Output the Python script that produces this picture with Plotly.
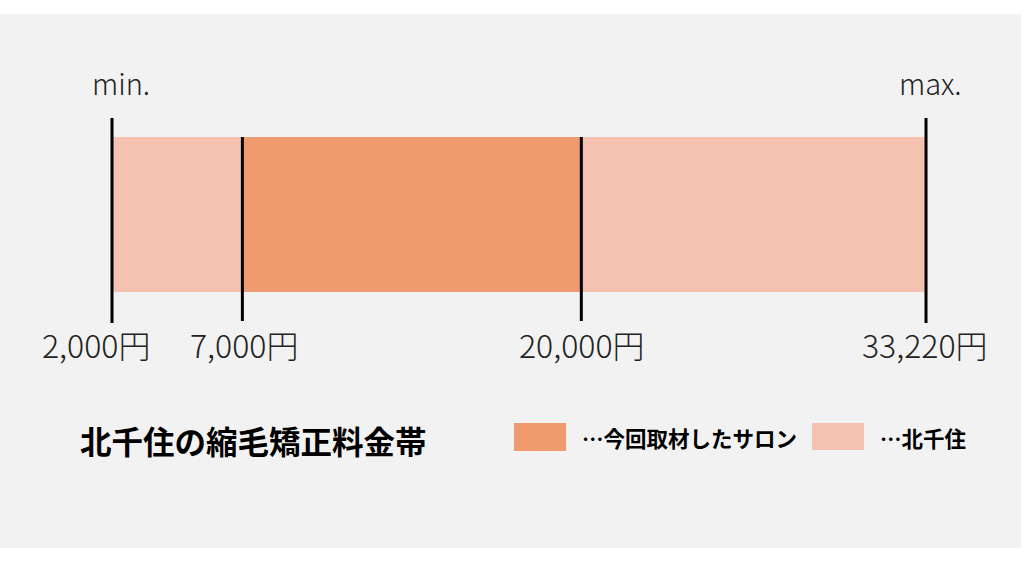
import plotly.graph_objects as go

# price band data (yen)
price_points = [2000, 7000, 20000, 33220]
price_labels = ["2,000円", "7,000円", "20,000円", "33,220円"]
end_labels = ["min.", "max."]

area_name = "北千住"
area_range = [2000, 33220]
salon_name = "今回取材したサロン"
salon_range = [7000, 20000]

title_text = "北千住の縮毛矯正料金帯"

DARK = "#F09A70"
LIGHT = "#F5C2B1"
BG = "#F2F2F2"
FONT = "Noto Sans CJK JP"

BAR_Y = 214.5
BAR_H = 155

fig = go.Figure()

# whole-area band, then the salon band on top
fig.add_trace(go.Bar(
    orientation="h", y=[BAR_Y], base=[area_range[0]],
    x=[area_range[1] - area_range[0]], width=BAR_H,
    marker=dict(color=LIGHT, line=dict(width=0)),
    name=area_name, hoverinfo="skip",
))
fig.add_trace(go.Bar(
    orientation="h", y=[BAR_Y], base=[salon_range[0]],
    x=[salon_range[1] - salon_range[0]], width=BAR_H,
    marker=dict(color=DARK, line=dict(width=0)),
    name=salon_name, hoverinfo="skip",
))

# tick lines; outer ones (min / max) stick out above the band
lx, ly = [], []
for i, p in enumerate(price_points):
    outer = i == 0 or i == len(price_points) - 1
    lx += [p, p, None]
    ly += [118 if outer else 137, 323 if outer else 321, None]
fig.add_trace(go.Scatter(x=lx, y=ly, mode="lines",
                         line=dict(color="black", width=3),
                         hoverinfo="skip", showlegend=False))

ann = []
shifts = [-16, 2, 1, -1]
for p, lab, s in zip(price_points, price_labels, shifts):
    ann.append(dict(x=p, y=344, text=lab, showarrow=False, xshift=s,
                    font=dict(family=FONT, size=32, color="#222222", weight=300),
                    xanchor="center", yanchor="middle"))
for p, lab, s in zip([price_points[0], price_points[-1]], end_labels, [9, 4]):
    ann.append(dict(x=p, y=82, text=lab, showarrow=False, xshift=s,
                    font=dict(family=FONT, size=29, color="#222222", weight=300),
                    xanchor="center", yanchor="middle"))

# title and hand-drawn legend
ann.append(dict(xref="paper", yref="paper", x=78 / 1021, y=(548 - 440) / 534,
                text="<b>" + title_text + "</b>", showarrow=False,
                xanchor="left", yanchor="middle",
                font=dict(family=FONT, size=31.5, color="black")))
ann.append(dict(xref="paper", yref="paper", x=580 / 1021, y=(548 - 437) / 534,
                text="<b>…" + salon_name + "</b>", showarrow=False,
                xanchor="left", yanchor="middle",
                font=dict(family=FONT, size=21.5, color="black")))
ann.append(dict(xref="paper", yref="paper", x=878 / 1021, y=(548 - 437) / 534,
                text="<b>…" + area_name + "</b>", showarrow=False,
                xanchor="left", yanchor="middle",
                font=dict(family=FONT, size=21.5, color="black")))

shapes = [
    dict(type="rect", xref="paper", yref="y", x0=514 / 1021, x1=566 / 1021,
         y0=423, y1=451, fillcolor=DARK, line=dict(width=0)),
    dict(type="rect", xref="paper", yref="y", x0=812 / 1021, x1=864 / 1021,
         y0=423, y1=450, fillcolor=LIGHT, line=dict(width=0)),
]

fig.update_layout(
    width=1024, height=562,
    margin=dict(l=0, r=3, t=14, b=14),
    paper_bgcolor="white", plot_bgcolor=BG,
    barmode="overlay", bargap=0, showlegend=False,
    annotations=ann, shapes=shapes,
    xaxis=dict(range=[-2296, 36863], visible=False, fixedrange=True),
    yaxis=dict(range=[548, 14], visible=False, fixedrange=True),
)

fig.write_html("out.html", config={"displayModeBar": False})

# drop the browser's default body margin so the figure sits at 0,0
with open("out.html", encoding="utf-8") as f:
    page = f.read()
page = page.replace("<body>", '<body style="margin:0">', 1)
with open("out.html", "w", encoding="utf-8") as f:
    f.write(page)
